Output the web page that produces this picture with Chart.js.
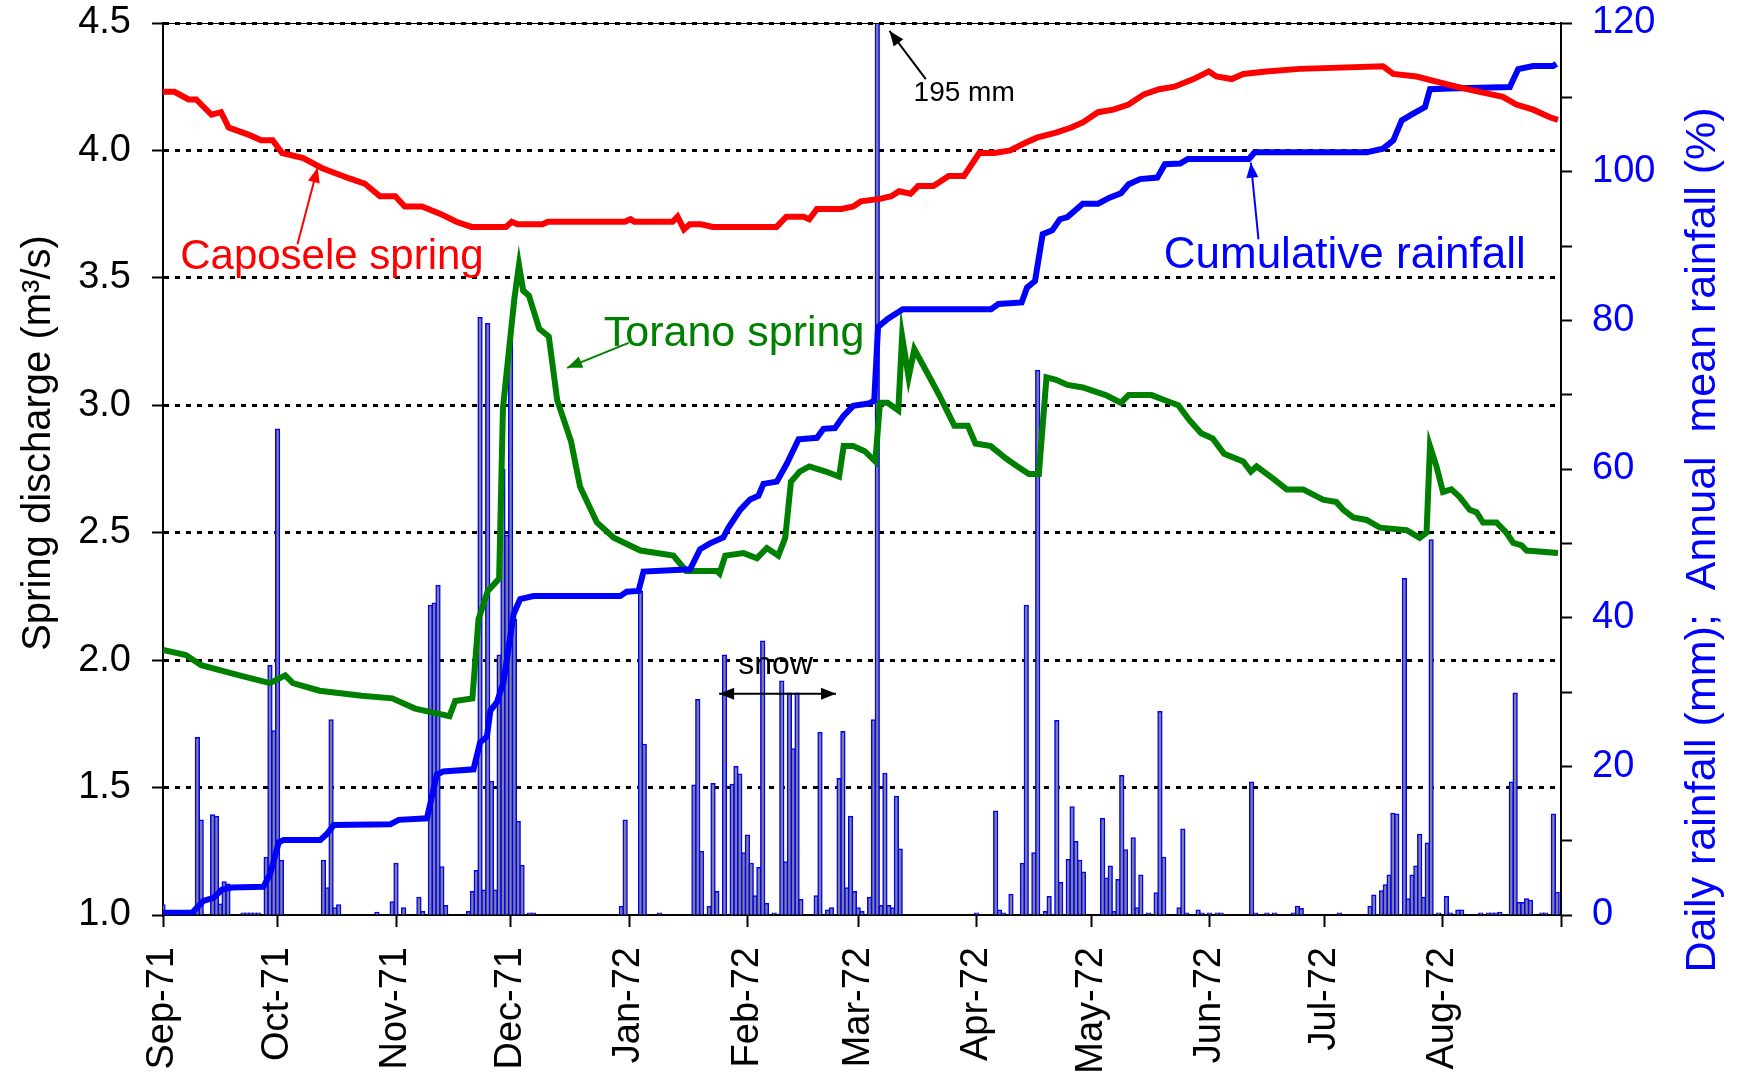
<!DOCTYPE html>
<html>
<head>
<meta charset="utf-8">
<title>Caposele and Torano springs 1971-72</title>
<script src="https://cdn.jsdelivr.net/npm/chart.js@4.4.1/dist/chart.umd.min.js"></script>
<style>
  html, body { margin: 0; padding: 0; background: #fff; }
  #wrap { width: 1737px; height: 1075px; }
</style>
</head>
<body>
<div id="wrap"><canvas id="chart" width="1737" height="1075"></canvas></div>
<script>
// ---- x axis: day index from 1 Sep 1971 ----
const MONTH_DAY   = [0, 30, 61, 91, 122, 153, 182, 213, 243, 274, 304, 335, 366];
const MONTH_LABEL = ["Sep-71","Oct-71","Nov-71","Dec-71","Jan-72","Feb-72","Mar-72",
                     "Apr-72","May-72","Jun-72","Jul-72","Aug-72",""];

// ---- daily rainfall (mm) ----
const RAIN_DAY = [0, 9, 10, 13, 14, 15, 16, 17, 21, 22, 23, 24, 25, 27, 28, 29, 30, 31,
  42, 43, 44, 45, 46, 56, 60, 61, 63, 67, 68, 70, 71, 72, 73, 74,
  80, 81, 82, 83, 84, 85, 86, 87, 88, 89, 90, 91, 92, 93, 94, 96, 97,
  120, 121, 125, 126, 130, 139, 140, 141, 143, 144, 145, 147, 149, 150, 151, 152, 153,
  154, 155, 156, 157, 158, 160, 162, 163, 164, 165, 166, 167, 171, 172, 174, 175,
  177, 178, 179, 180, 181, 182, 183, 185, 186, 187, 188, 189, 190, 191, 192, 193,
  213, 218, 219, 220, 222, 225, 226, 228, 229, 231, 232, 234, 235, 237, 238, 239, 240, 241,
  246, 247, 248, 249, 250, 251, 252, 254, 255, 256, 258, 260, 261, 262, 266, 267, 268,
  271, 272, 274, 276, 277, 285, 286, 289, 291, 296, 297, 298, 308,
  316, 317, 319, 320, 321, 322, 323, 325, 326, 327, 328, 329, 330, 331, 332, 334, 336, 337,
  339, 340, 345, 347, 348, 349, 350, 353, 354, 355, 356, 357, 358, 361, 362, 364, 365];
const RAIN_MM = [1.4, 23.9, 12.8, 13.5, 13.3, 1.5, 4.5, 4.2, 0.3, 0.3, 0.3, 0.3, 0.3, 7.8, 33.6, 24.8, 65.4, 7.4,
  7.4, 3.7, 26.3, 1.0, 1.4, 0.4, 1.8, 7.0, 1.0, 2.4, 0.5, 41.7, 42.0, 44.4, 6.5, 1.3,
  0.5, 3.2, 6.0, 80.4, 3.4, 79.6, 18.0, 3.4, 35.0, 60.0, 51.1, 78.7, 39.8, 12.6, 6.7, 0.3, 0.3,
  1.2, 12.8, 43.6, 23.0, 0.3, 17.5, 29.0, 8.6, 1.2, 17.7, 3.2, 35.0, 17.6, 20.0, 19.0, 8.4, 10.8,
  7.0, 2.6, 6.4, 36.9, 1.6, 0.3, 31.5, 7.2, 29.9, 22.4, 29.9, 2.1, 2.6, 24.6, 0.7, 1.0,
  18.4, 24.7, 3.7, 13.3, 3.2, 1.0, 0.5, 2.4, 26.3, 195, 1.3, 19.1, 1.3, 1.0, 16.0, 8.9,
  0.3, 14.0, 0.7, 0.3, 2.8, 7.0, 41.7, 8.4, 73.3, 0.5, 2.5, 26.2, 4.4, 7.5, 14.6, 9.9, 7.4, 5.8,
  13.0, 5.0, 6.6, 0.5, 4.8, 18.8, 8.8, 10.4, 1.0, 5.4, 0.3, 3.0, 27.4, 7.8, 1.0, 11.6, 0.3,
  0.7, 0.3, 0.3, 0.3, 0.3, 17.9, 0.3, 0.3, 0.3, 0.3, 1.2, 0.9, 0.3,
  1.2, 2.7, 3.3, 4.1, 5.4, 13.7, 13.6, 45.3, 2.2, 5.4, 6.6, 10.9, 2.4, 9.7, 50.5, 0.3, 2.5, 0.3,
  0.7, 0.7, 0.3, 0.3, 0.3, 0.3, 0.4, 17.9, 29.9, 1.7, 1.7, 2.2, 2.0, 0.3, 0.3, 13.6, 3.1];

// ---- Caposele spring discharge (m3/s) ----
const CAP_DAY = [0, 3, 6.7, 8.7, 12.7, 15.2, 17.2, 22.7, 25.7, 28.7, 31.2, 36.7, 41.7, 48.8, 52.8,
  56.8, 60.8, 63.3, 67.8, 72.8, 76.8, 80.8, 89.8, 91.3, 92.8, 99.3, 100.8, 120.9, 122.4, 123.4,
  133.4, 134.7, 136.4, 137.9, 140.9, 143.9, 160.6, 163.2, 167.7, 169.2, 171.2, 177.7, 180.7,
  182.7, 187.7, 190.7, 192.7, 195.7, 197.7, 201.7, 205.7, 209.7, 213.7, 217.7, 221.8, 225.8,
  228.8, 233.8, 237.8, 240.8, 244.8, 248.8, 252.8, 256.8, 260.8, 264.8, 269.8, 273.8, 275.8,
  279.8, 282.8, 288.8, 297.6, 319.4, 322.1, 328.2, 333.4, 338.7, 344.7, 350.8, 354.3, 358.7,
  363.1, 365.2];
const CAP_Q = [4.23, 4.23, 4.20, 4.20, 4.14, 4.15, 4.09, 4.06, 4.04, 4.04, 3.99, 3.97, 3.93, 3.89, 3.87,
  3.82, 3.82, 3.78, 3.78, 3.75, 3.72, 3.70, 3.70, 3.72, 3.71, 3.71, 3.72, 3.72, 3.73, 3.72,
  3.72, 3.74, 3.69, 3.71, 3.71, 3.70, 3.70, 3.74, 3.74, 3.73, 3.77, 3.77, 3.78,
  3.80, 3.81, 3.82, 3.84, 3.83, 3.86, 3.86, 3.90, 3.90, 3.99, 3.99, 4.00, 4.03,
  4.05, 4.07, 4.09, 4.11, 4.15, 4.16, 4.18, 4.22, 4.24, 4.25, 4.28, 4.31, 4.29,
  4.28, 4.30, 4.31, 4.32, 4.33, 4.30, 4.29, 4.27, 4.25, 4.23, 4.21, 4.18, 4.16,
  4.13, 4.12];

// ---- Torano spring discharge (m3/s) ----
const TOR_DAY = [0, 6, 10, 20, 28, 32, 34, 41, 52, 60, 66, 72, 75, 76.5, 81, 82.6, 85, 88, 89, 92,
  93.2, 94.3, 95.8, 98.5, 101, 103.2, 106.8, 109.2, 113.6, 118, 125, 133.6, 137, 145, 145.7,
  147.2, 152, 155.5, 158.1, 161.1, 162.9, 164.4, 166.7, 169.2, 173.5, 177, 178.2, 180.7, 183.7,
  186.5, 187.7, 189.7, 192.5, 193.5, 195.2, 196.7, 200.7, 203.2, 207.2, 210.7, 212.7, 216.7,
  220.8, 223.7, 226.7, 229.3, 231.3, 233.8, 236.8, 240.8, 246.8, 250.8, 252.8, 258.8, 262.3,
  265.8, 268.8, 271.8, 274.8, 277.8, 282.8, 284.8, 286.3, 290.8, 294.2, 298.5, 303.7, 307.2,
  309, 311.6, 315.1, 318.6, 325.6, 329, 330.8, 331.7, 333.4, 335.1, 337.3, 339.5, 342.1, 343.9,
  345.6, 349.1, 351.7, 353.5, 355.7, 357, 365.2];
const TOR_Q = [2.04, 2.02, 1.98, 1.94, 1.91, 1.94, 1.91, 1.88, 1.86, 1.85, 1.81, 1.79, 1.78, 1.84, 1.85, 2.16, 2.27, 2.32, 2.99, 3.42,
  3.55, 3.45, 3.43, 3.30, 3.27, 3.02, 2.86, 2.68, 2.54, 2.48, 2.43, 2.41, 2.35, 2.35, 2.34,
  2.41, 2.42, 2.40, 2.44, 2.41, 2.48, 2.70, 2.74, 2.76, 2.74, 2.72, 2.84, 2.84, 2.82,
  2.78, 3.01, 3.01, 2.98, 3.27, 3.11, 3.22, 3.11, 3.04, 2.92, 2.92, 2.85, 2.84,
  2.79, 2.76, 2.73, 2.73, 3.11, 3.10, 3.08, 3.07, 3.04, 3.01, 3.04, 3.04, 3.02,
  3.00, 2.94, 2.89, 2.87, 2.81, 2.78, 2.74, 2.76, 2.71, 2.67, 2.67, 2.63, 2.62,
  2.59, 2.56, 2.55, 2.52, 2.51, 2.48, 2.50, 2.84, 2.76, 2.66, 2.67, 2.64, 2.59, 2.58,
  2.54, 2.54, 2.50, 2.46, 2.45, 2.43, 2.42];

// ---- cumulative rainfall, % of annual mean ----
const CUM_DAY = [0, 7.6, 8.9, 10.6, 13.2, 15.4, 18, 26.3, 28.1, 30.3, 31.6, 41.2, 42.9, 44.7, 59.5,
  61.7, 69.1, 71.7, 73.4, 81.3, 83, 84.8, 85.7, 87.4, 89.1, 91.8, 93.5, 97, 119.7, 121.4, 124.5,
  125.8, 138, 140.6, 143.2, 146.7, 148, 151.1, 153.7, 155.9, 157.2, 160.7, 163.3, 166.4, 171.2,
  172.9, 175.9, 178.1, 180.7, 184.7, 186.2, 187.2, 189.7, 193.7, 216.8, 218.7, 224.8, 226.2,
  228.3, 230.3, 232.8, 234.8, 236.8, 240.8, 244.8, 247.8, 250.8, 252.8, 255.8, 260.3, 262.3,
  266.3, 268.3, 284.3, 285.8, 315.1, 319.4, 322.1, 324.3, 327.3, 330.4, 331.7, 336.9, 352.6,
  354.8, 358.7, 363.9, 364.8];
const CUM_PCT = [0.3, 0.3, 1.0, 1.9, 2.3, 3.4, 3.7, 3.8, 5.6, 9.8, 10.1, 10.1, 10.9, 12.1, 12.2,
  12.8, 13.0, 18.9, 19.3, 19.6, 23.2, 24.0, 27.5, 28.6, 31.2, 40.5, 42.5, 42.9, 42.9, 43.5, 43.6,
  46.2, 46.5, 49.2, 50.0, 50.8, 52.1, 54.5, 55.9, 56.4, 58.0, 58.3, 60.7, 64.0, 64.2,
  65.4, 65.5, 67.1, 68.5, 68.8, 69.2, 79.1, 80.2, 81.5, 81.5, 82.2, 82.4, 84.4,
  85.3, 91.6, 92.1, 93.6, 93.9, 95.7, 95.7, 96.5, 97.1, 98.3, 99.0, 99.2, 101.0,
  101.1, 101.7, 101.7, 102.6, 102.6, 103.1, 104.2, 106.9, 107.8, 108.7, 111.1, 111.2, 111.4,
  113.8, 114.2, 114.2, 114.5];

const RED = "#ff0000", GREEN = "#008000", BLUE = "#0000ff";
const FONT = '"Liberation Sans", Arial, Helvetica, sans-serif';

const pts = (xs, ys) => xs.map((d, i) => ({ x: d, y: ys[i] }));

// ---- annotations (in data units: day, left-axis discharge) ----
const LABELS = [
  { text: "Caposele spring",     day: 4.5,   q: 3.533, color: RED,    size: 42 },
  { text: "Torano spring",       day: 115.4, q: 3.232, color: GREEN,  size: 43 },
  { text: "Cumulative rainfall", day: 262.0, q: 3.540, color: BLUE,   size: 44 },
  { text: "195 mm",              day: 196.5, q: 4.194, color: "#000", size: 28 },
  { text: "snow",                day: 150.6, q: 1.944, color: "#000", size: 32 }
];
const ARROWS = [
  { from: [35.2, 3.632],  to: [40.5, 3.933],  color: RED,    both: false },
  { from: [121.9, 3.245], to: [105.8, 3.147], color: GREEN,  both: false },
  { from: [286.8, 3.651], to: [284.8, 3.952], color: BLUE,   both: false },
  { from: [199.7, 4.280], to: [190.2, 4.469], color: "#000", both: false },
  { from: [145.6, 1.868], to: [176.2, 1.868], color: "#000", both: true }
];

function head(ctx, x1, y1, x2, y2, len, half) {
  const a = Math.atan2(y2 - y1, x2 - x1);
  const bx = x2 - len * Math.cos(a), by = y2 - len * Math.sin(a);
  ctx.beginPath();
  ctx.moveTo(x2, y2);
  ctx.lineTo(bx + half * Math.sin(a), by - half * Math.cos(a));
  ctx.lineTo(bx - half * Math.sin(a), by + half * Math.cos(a));
  ctx.closePath();
  ctx.fill();
}

const notes = {
  id: "notes",
  afterDatasetsDraw(chart) {
    const { ctx, scales: { x, y } } = chart;
    ctx.save();
    ARROWS.forEach(ar => {
      const x1 = x.getPixelForValue(ar.from[0]), y1 = y.getPixelForValue(ar.from[1]);
      const x2 = x.getPixelForValue(ar.to[0]),   y2 = y.getPixelForValue(ar.to[1]);
      ctx.strokeStyle = ctx.fillStyle = ar.color;
      ctx.lineWidth = 2;
      ctx.beginPath();
      ctx.moveTo(x1, y1);
      ctx.lineTo(x2, y2);
      ctx.stroke();
      head(ctx, x1, y1, x2, y2, 15, 6);
      if (ar.both) head(ctx, x2, y2, x1, y1, 15, 6);
    });
    LABELS.forEach(l => {
      ctx.font = l.size + "px " + FONT;
      ctx.fillStyle = l.color;
      ctx.textAlign = "left";
      ctx.textBaseline = "alphabetic";
      ctx.fillText(l.text, x.getPixelForValue(l.day), y.getPixelForValue(l.q));
    });
    ctx.restore();
  },
  afterDraw(chart) {
    const { ctx, chartArea: a } = chart;
    ctx.save();
    // thin solid frame line along the top
    ctx.strokeStyle = "#000";
    ctx.lineWidth = 1;
    ctx.beginPath();
    ctx.moveTo(a.left, a.top + 0.5);
    ctx.lineTo(a.right, a.top + 0.5);
    ctx.stroke();
    // axis titles, both reading upwards
    ctx.textAlign = "center";
    ctx.textBaseline = "middle";
    ctx.font = "40px " + FONT;
    ctx.fillStyle = "#000";
    ctx.translate(39, 443);
    ctx.rotate(-Math.PI / 2);
    ctx.fillText("Spring discharge (m\u00B3/s)", 0, 0);
    ctx.restore();
    ctx.save();
    ctx.textAlign = "center";
    ctx.textBaseline = "middle";
    ctx.font = "43px " + FONT;
    ctx.fillStyle = BLUE;
    ctx.translate(1703, 540);
    ctx.rotate(-Math.PI / 2);
    ctx.fillText("Daily rainfall (mm);  Annual  mean rainfall (%)", 0, 0);
    ctx.restore();
  }
};

// keep the tick-label half heights from pushing the plot area down
const noPad = s => { s.paddingTop = 0; s.paddingBottom = 0; };

new Chart(document.getElementById("chart"), {
  type: "bar",
  data: {
    datasets: [
      { type: "line", label: "Caposele spring", data: pts(CAP_DAY, CAP_Q), yAxisID: "y",
        borderColor: RED, borderWidth: 6, pointRadius: 0, tension: 0, order: 1 },
      { type: "line", label: "Cumulative rainfall", data: pts(CUM_DAY, CUM_PCT), yAxisID: "y2",
        borderColor: BLUE, borderWidth: 6, pointRadius: 0, tension: 0, order: 2 },
      { type: "line", label: "Torano spring", data: pts(TOR_DAY, TOR_Q), yAxisID: "y",
        borderColor: GREEN, borderWidth: 6, pointRadius: 0, tension: 0, order: 3 },
      { type: "bar", label: "Daily rainfall", data: pts(RAIN_DAY, RAIN_MM), yAxisID: "y2",
        backgroundColor: "#808094", borderColor: BLUE, borderWidth: 1.5,
        barThickness: 4.6, order: 10 }
    ]
  },
  options: {
    responsive: false,
    animation: false,
    events: [],
    layout: { padding: { top: 23, left: 0, right: 0, bottom: 0 } },
    plugins: { legend: { display: false }, tooltip: { enabled: false } },
    scales: {
      x: {
        type: "linear", min: 0, max: 366, offset: false,
        afterBuildTicks: s => { s.ticks = MONTH_DAY.map(v => ({ value: v })); },
        afterFit: s => { s.height = 160; s.paddingLeft = 0; s.paddingRight = 0; },
        ticks: {
          autoSkip: false, minRotation: 90, maxRotation: 90, padding: 20,
          color: "#000", font: { family: FONT, size: 38 },
          callback: v => MONTH_LABEL[MONTH_DAY.indexOf(v)]
        },
        grid: { offset: false, drawOnChartArea: false, drawTicks: true, tickLength: 12,
                tickColor: "#000", tickWidth: 2 },
        border: { display: true, color: "#000", width: 2 }
      },
      y: {
        position: "left", min: 1, max: 4.5,
        afterFit: s => { s.width = 163; noPad(s); },
        ticks: { stepSize: 0.5, padding: 21, color: "#000",
                 font: { family: FONT, size: 38 }, callback: v => v.toFixed(1) },
        grid: {
          color: c => (c.tick && c.tick.value === 1 ? "rgba(0,0,0,0)" : "#000"),
          lineWidth: 3, drawTicks: true, tickLength: 11, tickColor: "#000", tickWidth: 2
        },
        border: { display: true, color: "#000", width: 2, dash: [5, 6] }
      },
      y2: {
        position: "right", min: 0, max: 120,
        afterFit: s => { s.width = 176; noPad(s); },
        ticks: { stepSize: 10, padding: 20, color: BLUE,
                 font: { family: FONT, size: 38 }, callback: v => (v % 20 === 0 ? v : "") },
        grid: { drawOnChartArea: false, drawTicks: true, tickLength: 11,
                tickColor: "#000", tickWidth: 2 },
        border: { display: true, color: "#000", width: 2 }
      }
    }
  },
  plugins: [notes]
});
</script>
</body>
</html>
